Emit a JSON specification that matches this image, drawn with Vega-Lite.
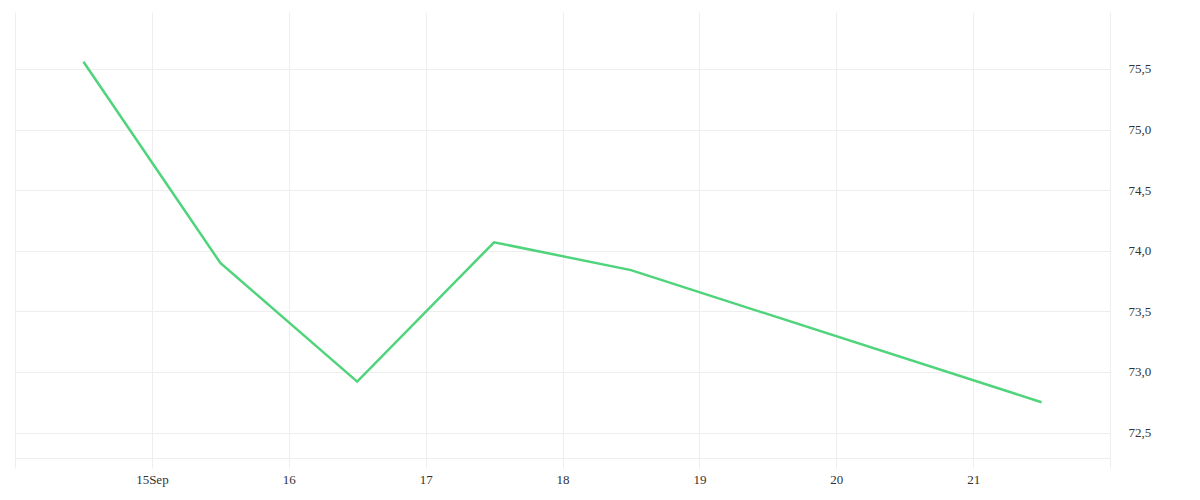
{
  "$schema": "https://vega.github.io/schema/vega-lite/v6.json",
  "description": "Daily price line",
  "autosize": "none",
  "padding": {"top": 12, "left": 15, "right": 90, "bottom": 42},
  "width": 1095,
  "height": 446,
  "background": "#ffffff",
  "data": {
    "values": [
      {"day": "2020-09-14T12:00:00Z", "price": 75.56},
      {"day": "2020-09-15T12:00:00Z", "price": 73.90},
      {"day": "2020-09-16T12:00:00Z", "price": 72.92},
      {"day": "2020-09-17T12:00:00Z", "price": 74.07},
      {"day": "2020-09-18T12:00:00Z", "price": 73.84},
      {"day": "2020-09-21T12:00:00Z", "price": 72.75}
    ]
  },
  "mark": {"type": "line", "color": "#4fd47c", "strokeWidth": 2.5},
  "encoding": {
    "x": {
      "field": "day",
      "type": "temporal",
      "title": null,
      "scale": {
        "type": "utc",
        "domain": [
          {"year": 2020, "month": 9, "date": 14, "utc": true},
          {"year": 2020, "month": 9, "date": 22, "utc": true}
        ]
      },
      "axis": {
        "tickCount": {"interval": "day", "step": 1},
        "labelExpr": "utcdate(datum.value) == 14 || utcdate(datum.value) == 22 ? '' : utcdate(datum.value) == 15 ? '15Sep' : '' + utcdate(datum.value)",
        "grid": true,
        "gridColor": "#eeeeee",
        "domainColor": "#eeeeee",
        "tickColor": "#eeeeee",
        "tickSize": 10,
        "labelPadding": 5,
        "labelFlush": false,
        "labelOverlap": false
      }
    },
    "y": {
      "field": "price",
      "type": "quantitative",
      "title": null,
      "scale": {"domain": [72.29, 75.97], "nice": false, "zero": false},
      "axis": {
        "orient": "right",
        "values": [72.5, 73.0, 73.5, 74.0, 74.5, 75.0, 75.5],
        "labelExpr": "replace(format(datum.value, '.1f'), '.', ',')",
        "grid": true,
        "gridColor": "#eeeeee",
        "domainColor": "#eeeeee",
        "ticks": false,
        "labelPadding": 18
      }
    }
  },
  "config": {
    "view": {"stroke": null},
    "axis": {
      "labelFont": "Liberation Serif",
      "labelFontSize": 13,
      "labelColor": "#333333"
    }
  }
}
